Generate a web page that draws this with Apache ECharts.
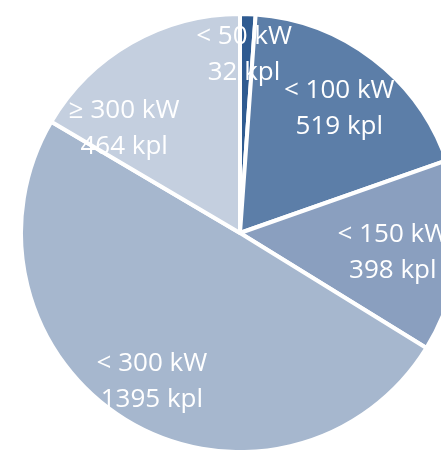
<!DOCTYPE html>
<html lang="en">
<head>
  <meta charset="UTF-8">
  <title>kpl</title>
  <script src="https://cdn.jsdelivr.net/npm/echarts@6/dist/echarts.min.js"></script>
  <style>
    html, body { margin: 0; padding: 0; background: #fff; }
  </style>
</head>
<body>
  <div id="main" style="width: 441px;height: 450px;"></div>
  <script type="text/javascript">
    var categories = ['< 50 kW', '< 100 kW', '< 150 kW', '< 300 kW', '\u2265 300 kW']
    var counts = [32, 519, 398, 1395, 464]
    var unit = 'kpl'
    var colors = ['#2f5b91', '#5c7ea8', '#8a9fbf', '#a6b7ce', '#c4cfdf']
    // nudge labels off the default inner position
    var labelShift = [[0, -66], [31, -35], [41, 8], [-30, 52], [-60, -7]]

    var myChart = echarts.init(document.getElementById('main'))

    myChart.setOption({
      backgroundColor: '#fff',
      animation: false,
      series: [{
        type: 'pie',
        center: [240, 233],
        radius: 219,
        startAngle: 90,
        clockwise: true,
        itemStyle: {
          borderColor: '#fff',
          borderWidth: 4
        },
        label: {
          show: true,
          position: 'inside',
          color: '#fff',
          fontFamily: 'Open Sans',
          fontSize: 26,
          lineHeight: 36,
          formatter: function (p) {
            return p.name + '\n' + p.value + ' ' + unit
          }
        },
        labelLine: { show: false },
        labelLayout: function (p) {
          var s = labelShift[p.dataIndex]
          return { dx: s[0], dy: s[1] }
        },
        data: categories.map(function (c, i) {
          return { name: c, value: counts[i], itemStyle: { color: colors[i] } }
        })
      }]
    })
  </script>
</body>
</html>
